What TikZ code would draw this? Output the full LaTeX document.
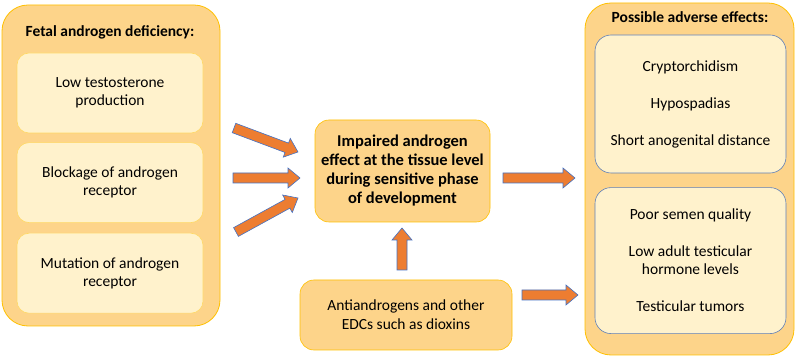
\documentclass[tikz,border=0pt]{standalone}
\usepackage{fontspec}
\setmainfont{Carlito}
\usetikzlibrary{positioning, calc}

\definecolor{groupfill}{HTML}{FDD48A}
\definecolor{groupline}{HTML}{FFC000}
\definecolor{itemfill}{HTML}{FFF2CC}
\definecolor{itemline}{HTML}{FFD966}
\definecolor{effline}{HTML}{5F7FB8}
\definecolor{arrowfill}{HTML}{ED7D31}
\definecolor{arrowline}{HTML}{4472C4}

% block arrow from #1 to #2 (body, head)
\newcommand\fatarrow[2]{%
  \coordinate (fa-h) at ($(#2)!12pt!(#1)$);
  \filldraw[fat] ($(#1)!5pt!90:(#2)$) -- ($(fa-h)!5pt!90:(#2)$)
    -- ($(fa-h)!10pt!90:(#2)$) -- (#2) -- ($(fa-h)!10pt!-90:(#2)$)
    -- ($(fa-h)!5pt!-90:(#2)$) -- ($(#1)!5pt!-90:(#2)$) -- cycle;}

\begin{document}
\begin{tikzpicture}[
    x=1pt, y=-1pt,
    node distance=9pt,
    group/.style={
        rectangle, rounded corners=26pt, draw=groupline, fill=groupfill,
        line width=0.8pt
    },
    item/.style={
        rectangle, rounded corners=12pt, draw=itemline, fill=itemfill,
        line width=0.6pt, align=center, inner sep=0pt,
        minimum width=186pt, minimum height=80pt,
        font=\fontsize{15.5}{18}\selectfont
    },
    effect/.style={item, draw=effline, minimum width=191pt, rounded corners=16pt},
    core/.style={
        rectangle, rounded corners=14pt, draw=groupline, fill=groupfill,
        line width=0.6pt, align=center, inner sep=0pt
    },
    title/.style={font=\fontsize{15.5}{18}\selectfont\bfseries},
    fat/.style={fill=arrowfill, draw=arrowline, line width=0.6pt, line join=miter}
]
  \useasboundingbox (0,0) rectangle (796,358);

  % Left group: deficiency
  \node[group, minimum width=218pt, minimum height=321pt] (deficiency) at (111,165.5) {};
  \node[title] (deftitle) at (110,32) {Fetal androgen deficiency:};
  \node[item] (lowt) at (110,93) {Low testosterone\\production};
  \node[item, below=of lowt] (blockage) {Blockage of androgen\\receptor};
  \node[item, below=10pt of blockage] (mutation) {Mutation of androgen\\receptor};

  % Middle: impaired effect and EDCs
  \node[core, minimum width=175pt, minimum height=102pt,
        font=\fontsize{16.5}{19}\selectfont\bfseries] (impaired) at (402.5,171)
        {Impaired androgen\\effect at the tissue level\\during sensitive phase\\of development};
  \node[core, minimum width=212pt, minimum height=70pt,
        font=\fontsize{15.5}{19}\selectfont] (edcs) at (406,315)
        {Antiandrogens and other\\EDCs such as dioxins};

  % Right group: adverse effects
  \node[group, minimum width=209pt, minimum height=352pt] (adverse) at (689.5,179) {};
  \node[title] (advtitle) at (690,17) {Possible adverse effects:};
  \node[effect, minimum height=138pt] (early) at (690.5,104)
        {Cryptorchidism\\[19pt]Hypospadias\\[19pt]Short anogenital distance};
  \node[effect, minimum height=146pt, below=14pt of early] (adult)
        {Poor semen quality\\[19pt]Low adult testicular\\hormone levels\\[19pt]Testicular tumors};

  % Arrow ends
  \coordinate (a1s) at (234,128);  \coordinate (a1e) at (298,152);
  \coordinate (a2s) at (233,178);  \coordinate (a2e) at (300,178);
  \coordinate (a3s) at (236,232);  \coordinate (a3e) at (298,198);
  \coordinate (ups) at (402,270);  \coordinate (upe) at (402,228);
  \coordinate (r1s) at (503,178);  \coordinate (r1e) at (575,178);
  \coordinate (r2s) at (522,295);  \coordinate (r2e) at (578,295);

  % Block arrows
  \fatarrow{a1s}{a1e}
  \fatarrow{a2s}{a2e}
  \fatarrow{a3s}{a3e}
  \fatarrow{ups}{upe}
  \fatarrow{r1s}{r1e}
  \fatarrow{r2s}{r2e}

\end{tikzpicture}
\end{document}
